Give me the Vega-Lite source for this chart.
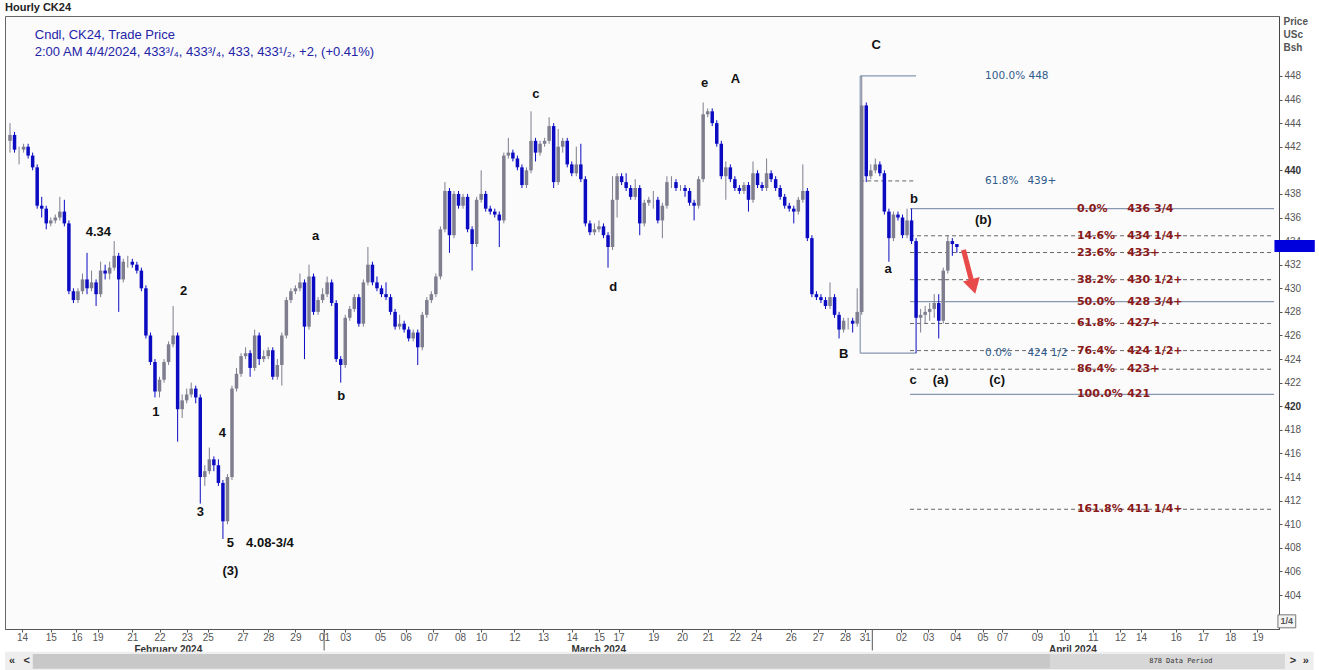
{
  "$schema": "https://vega.github.io/schema/vega-lite/v6.json",
  "width": 1274,
  "height": 613,
  "autosize": {"type": "none"},
  "padding": {"left": 5, "top": 16, "right": 40, "bottom": 41},
  "background": "#ffffff",
  "title": {"text": "Hourly CK24", "anchor": "start", "frame": "group", "fontSize": 11, "fontWeight": "bold", "font": "Liberation Sans", "color": "#222222", "offset": 3},
  "config": {
    "font": "Liberation Sans",
    "view": {"stroke": "#666666", "strokeWidth": 1, "fill": "#fbfbfb"},
    "axis": {"grid": false, "title": null, "labelOverlap": false, "labelFlush": false, "labelBound": false}
  },
  "datasets": {
    "candles": [
      {"i":0,"o":442.5,"h":444,"l":441.5,"c":443},
      {"i":3,"o":443,"h":443.25,"l":441.5,"c":441.75},
      {"i":6,"o":441.75,"h":442,"l":440.5,"c":441.75},
      {"i":9,"o":441.75,"h":442.25,"l":441.5,"c":442},
      {"i":12,"o":442,"h":442.25,"l":441,"c":441.25},
      {"i":15,"o":441.25,"h":441.5,"l":440,"c":440.25},
      {"i":18,"o":440.25,"h":440.5,"l":436.75,"c":437},
      {"i":21,"o":437,"h":437.75,"l":436,"c":436.75},
      {"i":24,"o":436.75,"h":437,"l":435,"c":435.5},
      {"i":27,"o":435.5,"h":436,"l":435.25,"c":435.75},
      {"i":30,"o":435.75,"h":436.25,"l":435.5,"c":436},
      {"i":33,"o":436,"h":437.75,"l":435.75,"c":436.5},
      {"i":36,"o":436.5,"h":437.5,"l":435.25,"c":435.5},
      {"i":39,"o":435.5,"h":435.75,"l":429.5,"c":429.75},
      {"i":42,"o":429.75,"h":430,"l":428.75,"c":429},
      {"i":45,"o":429,"h":430,"l":428.75,"c":429.75},
      {"i":48,"o":429.75,"h":431.25,"l":429.5,"c":430.75},
      {"i":51,"o":430.75,"h":433,"l":429.5,"c":430},
      {"i":54,"o":430,"h":431.5,"l":429.75,"c":430.5},
      {"i":57,"o":430.5,"h":430.75,"l":428.5,"c":429.5},
      {"i":60,"o":429.5,"h":432.25,"l":429.25,"c":431.5},
      {"i":63,"o":431.5,"h":432,"l":430.75,"c":431.25},
      {"i":66,"o":431.25,"h":432.25,"l":430.75,"c":431.75},
      {"i":69,"o":431.75,"h":434,"l":431.5,"c":432.75},
      {"i":72,"o":432.75,"h":433,"l":428,"c":430.75},
      {"i":75,"o":430.75,"h":432.5,"l":430.5,"c":432.25},
      {"i":78,"o":432.25,"h":432.75,"l":431.75,"c":432.25},
      {"i":81,"o":432.25,"h":432.5,"l":431.75,"c":432},
      {"i":84,"o":432,"h":432.25,"l":431.25,"c":431.5},
      {"i":87,"o":431.5,"h":431.75,"l":429.75,"c":430},
      {"i":90,"o":430,"h":430.25,"l":425.75,"c":426},
      {"i":93,"o":426,"h":426.25,"l":423.5,"c":423.75},
      {"i":96,"o":423.75,"h":424,"l":420.75,"c":421.25},
      {"i":99,"o":421.25,"h":422.5,"l":420.75,"c":422.25},
      {"i":102,"o":422.25,"h":424,"l":422,"c":423.75},
      {"i":105,"o":423.75,"h":425.5,"l":423.5,"c":425.25},
      {"i":108,"o":425.25,"h":428.5,"l":425,"c":426},
      {"i":111,"o":426,"h":426.25,"l":417,"c":419.75},
      {"i":114,"o":419.75,"h":421,"l":419,"c":420.5},
      {"i":117,"o":420.5,"h":421.5,"l":420.25,"c":421},
      {"i":120,"o":421,"h":422,"l":420.75,"c":421.5},
      {"i":123,"o":421.5,"h":421.75,"l":420.25,"c":420.75},
      {"i":126,"o":420.75,"h":421,"l":411.75,"c":414},
      {"i":129,"o":414,"h":415,"l":413.25,"c":414.5},
      {"i":132,"o":414.5,"h":416.5,"l":414.25,"c":415.5},
      {"i":135,"o":415.5,"h":415.75,"l":414.5,"c":415},
      {"i":138,"o":415,"h":415.5,"l":413.25,"c":413.5},
      {"i":141,"o":413.5,"h":413.75,"l":408.75,"c":410.25},
      {"i":144,"o":410.25,"h":414.25,"l":410,"c":414},
      {"i":147,"o":414,"h":421.75,"l":413.75,"c":421.5},
      {"i":150,"o":421.5,"h":423.25,"l":421.25,"c":422.75},
      {"i":153,"o":422.75,"h":424.5,"l":422.5,"c":424.25},
      {"i":156,"o":424.25,"h":425,"l":424,"c":424.5},
      {"i":159,"o":424.5,"h":424.75,"l":422.5,"c":423.25},
      {"i":162,"o":423.25,"h":426.5,"l":423,"c":426},
      {"i":165,"o":426,"h":426.25,"l":423.5,"c":424},
      {"i":168,"o":424,"h":424.75,"l":423.75,"c":424.25},
      {"i":171,"o":424.25,"h":425,"l":424,"c":424.75},
      {"i":174,"o":424.75,"h":425,"l":422.25,"c":422.5},
      {"i":177,"o":422.5,"h":424,"l":422.25,"c":423.5},
      {"i":180,"o":423.5,"h":426.25,"l":421.75,"c":426},
      {"i":183,"o":426,"h":429.25,"l":425.75,"c":429},
      {"i":186,"o":429,"h":430,"l":428.75,"c":429.75},
      {"i":189,"o":429.75,"h":430.25,"l":429.5,"c":430},
      {"i":192,"o":430,"h":431.25,"l":429.75,"c":430.5},
      {"i":195,"o":430.5,"h":430.75,"l":424,"c":426.75},
      {"i":198,"o":426.75,"h":432,"l":426.5,"c":431},
      {"i":201,"o":431,"h":431.25,"l":427.75,"c":428},
      {"i":204,"o":428,"h":429.25,"l":427.75,"c":429},
      {"i":207,"o":429,"h":430,"l":428.75,"c":429.5},
      {"i":210,"o":429.5,"h":431,"l":429.25,"c":430.5},
      {"i":213,"o":430.5,"h":430.75,"l":428.5,"c":428.75},
      {"i":216,"o":428.75,"h":429,"l":423.75,"c":424},
      {"i":219,"o":424,"h":424.25,"l":422,"c":423.5},
      {"i":222,"o":423.5,"h":427.75,"l":423.25,"c":427.5},
      {"i":225,"o":427.5,"h":428.5,"l":427.25,"c":428.25},
      {"i":228,"o":428.25,"h":429.5,"l":428,"c":429.25},
      {"i":231,"o":429.25,"h":429.5,"l":426.75,"c":427},
      {"i":234,"o":427,"h":430.75,"l":426.75,"c":430.5},
      {"i":237,"o":430.5,"h":433.5,"l":430.25,"c":432},
      {"i":240,"o":432,"h":432.25,"l":430.25,"c":430.5},
      {"i":243,"o":430.5,"h":431,"l":429.75,"c":430},
      {"i":246,"o":430,"h":430.25,"l":429.25,"c":429.5},
      {"i":249,"o":429.5,"h":430.5,"l":429,"c":429.25},
      {"i":252,"o":429.25,"h":429.5,"l":427.75,"c":428},
      {"i":255,"o":428,"h":428.25,"l":426.5,"c":426.75},
      {"i":258,"o":426.75,"h":427.75,"l":426.5,"c":427},
      {"i":261,"o":427,"h":427.25,"l":426.25,"c":426.5},
      {"i":264,"o":426.5,"h":426.75,"l":425.5,"c":425.75},
      {"i":267,"o":425.75,"h":426.5,"l":425.5,"c":426.25},
      {"i":270,"o":426.25,"h":426.5,"l":423.5,"c":425},
      {"i":273,"o":425,"h":428,"l":424.75,"c":427.75},
      {"i":276,"o":427.75,"h":429.25,"l":427.5,"c":429},
      {"i":279,"o":429,"h":429.75,"l":428.75,"c":429.5},
      {"i":282,"o":429.5,"h":431.25,"l":429.25,"c":431},
      {"i":285,"o":431,"h":435.25,"l":430.75,"c":435},
      {"i":288,"o":435,"h":439,"l":434.75,"c":438.25},
      {"i":291,"o":438.25,"h":438.5,"l":433,"c":434.5},
      {"i":294,"o":434.5,"h":438.25,"l":434.25,"c":438},
      {"i":297,"o":438,"h":438.25,"l":436.75,"c":437},
      {"i":300,"o":437,"h":438,"l":436.75,"c":437.75},
      {"i":303,"o":437.75,"h":438,"l":434.75,"c":435},
      {"i":306,"o":435,"h":435.25,"l":431.5,"c":433.75},
      {"i":309,"o":433.75,"h":437.75,"l":433.5,"c":437.5},
      {"i":312,"o":437.5,"h":440,"l":437.25,"c":438},
      {"i":315,"o":438,"h":438.25,"l":436.5,"c":436.75},
      {"i":318,"o":436.75,"h":437,"l":436.25,"c":436.5},
      {"i":321,"o":436.5,"h":436.75,"l":436,"c":436.25},
      {"i":324,"o":436.25,"h":436.5,"l":433.5,"c":435.75},
      {"i":327,"o":435.75,"h":441.5,"l":435.5,"c":441.25},
      {"i":330,"o":441.25,"h":442.75,"l":441,"c":441.5},
      {"i":333,"o":441.5,"h":441.75,"l":440.75,"c":441},
      {"i":336,"o":441,"h":441.25,"l":440,"c":440.25},
      {"i":339,"o":440.25,"h":440.5,"l":438.5,"c":438.75},
      {"i":342,"o":438.75,"h":440.25,"l":438.5,"c":440},
      {"i":345,"o":440,"h":445,"l":439.75,"c":442.5},
      {"i":348,"o":442.5,"h":442.75,"l":440.75,"c":441.5},
      {"i":351,"o":441.5,"h":442.5,"l":441.25,"c":442.25},
      {"i":354,"o":442.25,"h":442.75,"l":442,"c":442.5},
      {"i":357,"o":442.5,"h":444.5,"l":442.25,"c":443.75},
      {"i":360,"o":443.75,"h":444,"l":438.5,"c":439},
      {"i":363,"o":439,"h":443.5,"l":438.75,"c":442},
      {"i":366,"o":442,"h":442.75,"l":441.5,"c":442.5},
      {"i":369,"o":442.5,"h":442.75,"l":440.25,"c":440.5},
      {"i":372,"o":440.5,"h":440.75,"l":439.5,"c":439.75},
      {"i":375,"o":439.75,"h":442,"l":439.5,"c":440.5},
      {"i":378,"o":440.5,"h":442.25,"l":439,"c":439.25},
      {"i":381,"o":439.25,"h":439.5,"l":435.25,"c":435.5},
      {"i":384,"o":435.5,"h":435.75,"l":434.5,"c":434.75},
      {"i":387,"o":434.75,"h":435.5,"l":434.5,"c":435},
      {"i":390,"o":435,"h":435.75,"l":434.75,"c":435.25},
      {"i":393,"o":435.25,"h":435.5,"l":434.25,"c":434.5},
      {"i":396,"o":434.5,"h":434.75,"l":431.75,"c":433.5},
      {"i":399,"o":433.5,"h":439.5,"l":433.25,"c":437.5},
      {"i":402,"o":437.5,"h":439.75,"l":436,"c":439.5},
      {"i":405,"o":439.5,"h":439.75,"l":438.75,"c":439},
      {"i":408,"o":439,"h":439.75,"l":438.25,"c":438.5},
      {"i":411,"o":438.5,"h":438.75,"l":437.5,"c":437.75},
      {"i":414,"o":437.75,"h":439.25,"l":437.5,"c":438.5},
      {"i":417,"o":438.5,"h":438.75,"l":434.5,"c":435.5},
      {"i":420,"o":435.5,"h":437.5,"l":435.25,"c":437.25},
      {"i":423,"o":437.25,"h":437.75,"l":437,"c":437.5},
      {"i":426,"o":437.5,"h":438.25,"l":436.75,"c":437.5},
      {"i":429,"o":437.5,"h":437.75,"l":435.5,"c":435.75},
      {"i":432,"o":435.75,"h":437.25,"l":434.25,"c":437},
      {"i":435,"o":437,"h":439.5,"l":436.75,"c":439},
      {"i":438,"o":439,"h":439.5,"l":438.5,"c":439},
      {"i":441,"o":439,"h":439.25,"l":438.25,"c":438.5},
      {"i":444,"o":438.5,"h":438.75,"l":438.25,"c":438.5},
      {"i":447,"o":438.5,"h":438.75,"l":437.75,"c":438.25},
      {"i":450,"o":438.25,"h":438.5,"l":437,"c":437.25},
      {"i":453,"o":437.25,"h":437.5,"l":435.75,"c":437},
      {"i":456,"o":437,"h":439.5,"l":436.75,"c":439.25},
      {"i":459,"o":439.25,"h":445.75,"l":439,"c":444.75},
      {"i":462,"o":444.75,"h":445.25,"l":444.5,"c":445},
      {"i":465,"o":445,"h":445.25,"l":443.75,"c":444},
      {"i":468,"o":444,"h":444.25,"l":442,"c":442.25},
      {"i":471,"o":442.25,"h":442.5,"l":439.25,"c":439.5},
      {"i":474,"o":439.5,"h":440.75,"l":437.5,"c":440.25},
      {"i":477,"o":440.25,"h":440.5,"l":439,"c":439.25},
      {"i":480,"o":439.25,"h":439.5,"l":438.25,"c":438.5},
      {"i":483,"o":438.5,"h":438.75,"l":438,"c":438.25},
      {"i":486,"o":438.25,"h":439,"l":438,"c":438.75},
      {"i":489,"o":438.75,"h":439,"l":436.5,"c":437.5},
      {"i":492,"o":437.5,"h":440.75,"l":437.25,"c":439.75},
      {"i":495,"o":439.75,"h":440,"l":438.5,"c":438.75},
      {"i":498,"o":438.75,"h":439,"l":438.25,"c":438.5},
      {"i":501,"o":438.5,"h":441,"l":438.25,"c":439.75},
      {"i":504,"o":439.75,"h":440,"l":439,"c":439.25},
      {"i":507,"o":439.25,"h":439.5,"l":438.25,"c":438.5},
      {"i":510,"o":438.5,"h":438.75,"l":437.5,"c":437.75},
      {"i":513,"o":437.75,"h":438,"l":436.75,"c":437},
      {"i":516,"o":437,"h":437.25,"l":436.5,"c":436.75},
      {"i":519,"o":436.75,"h":437,"l":435.5,"c":436.5},
      {"i":522,"o":436.5,"h":437.75,"l":436.25,"c":437.5},
      {"i":525,"o":437.5,"h":440.5,"l":437.25,"c":438.25},
      {"i":528,"o":438.25,"h":438.5,"l":434,"c":434.25},
      {"i":531,"o":434.25,"h":434.5,"l":429.25,"c":429.5},
      {"i":534,"o":429.5,"h":429.75,"l":429,"c":429.25},
      {"i":537,"o":429.25,"h":429.5,"l":428.75,"c":429},
      {"i":540,"o":429,"h":429.25,"l":428.25,"c":428.5},
      {"i":543,"o":428.5,"h":430.5,"l":428.25,"c":429.25},
      {"i":546,"o":429.25,"h":429.5,"l":427.5,"c":427.75},
      {"i":549,"o":427.75,"h":428,"l":425.75,"c":426.5},
      {"i":552,"o":426.5,"h":427.5,"l":426.25,"c":427.25},
      {"i":555,"o":427.25,"h":427.5,"l":426.5,"c":427.25},
      {"i":558,"o":427.25,"h":427.5,"l":426.25,"c":427},
      {"i":561,"o":427,"h":430,"l":426.75,"c":428},
      {"i":564,"o":428,"h":448,"l":427.75,"c":445.5},
      {"i":567,"o":445.5,"h":445.75,"l":439,"c":439.5},
      {"i":570,"o":439.5,"h":440.5,"l":439.25,"c":440},
      {"i":573,"o":440,"h":441,"l":439.75,"c":440.5},
      {"i":576,"o":440.5,"h":440.75,"l":439.5,"c":439.75},
      {"i":579,"o":439.75,"h":440,"l":436.25,"c":436.5},
      {"i":582,"o":436.5,"h":436.75,"l":432.25,"c":434.25},
      {"i":585,"o":434.25,"h":436.5,"l":434,"c":436.25},
      {"i":588,"o":436.25,"h":436.5,"l":435.75,"c":436},
      {"i":591,"o":436,"h":436.25,"l":434.25,"c":434.5},
      {"i":594,"o":434.5,"h":436.75,"l":434.25,"c":435.75},
      {"i":597,"o":435.75,"h":436.75,"l":433.75,"c":434},
      {"i":600,"o":434,"h":434.25,"l":424.5,"c":427.5},
      {"i":603,"o":427.5,"h":428.25,"l":426.25,"c":427.75},
      {"i":606,"o":427.75,"h":428.5,"l":427,"c":428},
      {"i":609,"o":428,"h":428.75,"l":427.25,"c":428.25},
      {"i":612,"o":428.25,"h":429.5,"l":427.5,"c":428.75},
      {"i":615,"o":428.75,"h":429.5,"l":425.75,"c":427.25},
      {"i":618,"o":427.25,"h":431.75,"l":427,"c":431.5},
      {"i":621,"o":431.5,"h":434.5,"l":431.25,"c":434},
      {"i":624,"o":434,"h":434.25,"l":432.75,"c":433.75},
      {"i":627,"o":433.75,"h":433.75,"l":433,"c":433.5}
    ],
    "fibSolid": [
      {"x1":563,"x2":600,"y":448},
      {"x1":563,"x2":600,"y":424.5},
      {"x1":596,"x2":837,"y":436.75},
      {"x1":596,"x2":837,"y":428.875},
      {"x1":596,"x2":837,"y":421}
    ],
    "fibDash": [
      {"x1":563,"x2":600,"y":439.1},
      {"x1":596,"x2":837,"y":434.45},
      {"x1":596,"x2":837,"y":433.03},
      {"x1":596,"x2":837,"y":430.73},
      {"x1":596,"x2":837,"y":427.02},
      {"x1":596,"x2":837,"y":424.72},
      {"x1":596,"x2":837,"y":423.14},
      {"x1":596,"x2":837,"y":411.27}
    ],
    "fibRed": [
      {"y":436.75,"pct":"0.0%","price":"436 3/4"},
      {"y":434.45,"pct":"14.6%","price":"434 1/4+"},
      {"y":433.03,"pct":"23.6%","price":"433+"},
      {"y":430.73,"pct":"38.2%","price":"430 1/2+"},
      {"y":428.875,"pct":"50.0%","price":"428 3/4+"},
      {"y":427.02,"pct":"61.8%","price":"427+"},
      {"y":424.72,"pct":"76.4%","price":"424 1/2+"},
      {"y":423.14,"pct":"86.4%","price":"423+"},
      {"y":421,"pct":"100.0%","price":"421"},
      {"y":411.27,"pct":"161.8%","price":"411 1/4+"}
    ],
    "fibBlue": [
      {"y":448,"pct":"100.0% 448","price":""},
      {"y":439.1,"pct":"61.8%","price":"439+"},
      {"y":424.5,"pct":"0.0%","price":"424 1/2"}
    ],
    "waves": [
      {"x":573.6,"y":450.6,"t":"C"},
      {"x":480.3,"y":447.75,"t":"A"},
      {"x":459.9,"y":447.4,"t":"e"},
      {"x":348.2,"y":446.5,"t":"c"},
      {"x":58.5,"y":434.8,"t":"4.34"},
      {"x":202.4,"y":434.4,"t":"a"},
      {"x":115,"y":429.8,"t":"2"},
      {"x":399.5,"y":430.1,"t":"d"},
      {"x":598.6,"y":437.6,"t":"b"},
      {"x":644.5,"y":435.8,"t":"(b)"},
      {"x":581.5,"y":431.6,"t":"a"},
      {"x":552,"y":424.4,"t":"B"},
      {"x":598,"y":422.2,"t":"c"},
      {"x":616.3,"y":422.2,"t":"(a)"},
      {"x":653.7,"y":422.2,"t":"(c)"},
      {"x":96.6,"y":419.5,"t":"1"},
      {"x":140.6,"y":417.7,"t":"4"},
      {"x":219.4,"y":420.9,"t":"b"},
      {"x":126.1,"y":411.05,"t":"3"},
      {"x":145.9,"y":408.4,"t":"5"},
      {"x":172.1,"y":408.4,"t":"4.08-3/4"},
      {"x":145.9,"y":406.05,"t":"(3)"}
    ]
  },
  "layer": [
    {
      "data": {"values": [{"x1":-3.3,"x2":863.3,"y1":399.2,"y2":397.6}]},
      "mark": {"type": "rect", "fill": "#eeeeee", "clip": false},
      "encoding": {
        "x": {"field": "x1", "type": "quantitative", "scale": {"domain": [0, 837], "nice": false, "zero": false}, "axis": {
          "orient": "bottom",
          "values": [8,27,44,58,81,99,117,131,154,171,189,208,222,245,262,280,298,312,334,353,372,390,403,426,445,462,480,494,517,535,553,566,590,608,626,644,657,680,698,717,735,749,772,790,808,826,104.5,389.5,703.5],
          "tickCount": 500,
          "labelExpr": "['14','15','16','19','21','22','23','25','27','28','29','01','03','05','06','07','08','10','12','13','14','15','17','19','20','21','22','24','26','27','28','31','02','03','04','05','07','09','10','11','12','14','16','17','18','19',['','February 2024'],['','March 2024'],['','April 2024']][indexof([8,27,44,58,81,99,117,131,154,171,189,208,222,245,262,280,298,312,334,353,372,390,403,426,445,462,480,494,517,535,553,566,590,608,626,644,657,680,698,717,735,749,772,790,808,826,104.5,389.5,703.5], datum.value)]",
          "labelFontSize": 10,
          "labelFont": "Liberation Sans",
          "labelColor": {"condition": {"test": "datum.value % 1 != 0", "value": "#333333"}, "value": "#555555"},
          "labelFontWeight": {"condition": {"test": "datum.value % 1 != 0", "value": "bold"}, "value": "normal"},
          "labelOverlap": false,
          "labelFlush": false,
          "labelBound": false,
          "labelPadding": 0,
          "labelLineHeight": 12,
          "tickSize": 3,
          "tickColor": "#555555",
          "tickOpacity": {"condition": {"test": "datum.value % 1 != 0", "value": 0}, "value": 1},
          "domainColor": "#555555",
          "title": null
        }},
        "x2": {"field": "x2"},
        "y": {"field": "y1", "type": "quantitative", "scale": {"domain": [401.12, 453.08], "nice": false, "zero": false}, "axis": {
          "orient": "right",
          "values": [404,406,408,410,412,414,416,418,420,422,424,426,428,430,432,434,436,438,440,442,444,446,448],
          "tickCount": 500,
          "format": "d",
          "labelFontSize": 10,
          "labelFont": "Liberation Sans",
          "labelColor": {"condition": {"test": "datum.value % 20 == 0", "value": "#333333"}, "value": "#555555"},
          "labelFontWeight": {"condition": {"test": "datum.value % 20 == 0", "value": "bold"}, "value": "normal"},
          "labelOverlap": false,
          "labelPadding": 2,
          "tickSize": 3,
          "tickColor": "#555555",
          "domainColor": "#444444",
          "title": ["Price", "USc", "Bsh"],
          "titleAngle": 0,
          "titleAlign": "left",
          "titleBaseline": "top",
          "titleX": 4,
          "titleY": 0,
          "titleFontSize": 10,
          "titleFontWeight": "bold",
          "titleColor": "#555555",
          "titleLineHeight": 13
        }},
        "y2": {"field": "y2"}
      }
    },
    {
      "data": {"values": [{"x1":15.1,"x2":844,"y1":399.0,"y2":397.75}]},
      "mark": {"type": "rect", "fill": "#c8c8c8"},
      "encoding": {
        "x": {"field": "x1", "type": "quantitative"},
        "x2": {"field": "x2"},
        "y": {"field": "y1", "type": "quantitative", "axis": {"orient": "right"}},
        "y2": {"field": "y2"}
      }
    },
    {
      "data": {"values": [{"x1":688.6,"x2":844,"y1":399.0,"y2":397.75}]},
      "mark": {"type": "rect", "fill": "#d7d7d7"},
      "encoding": {
        "x": {"field": "x1", "type": "quantitative"},
        "x2": {"field": "x2"},
        "y": {"field": "y1", "type": "quantitative", "axis": {"orient": "right"}},
        "y2": {"field": "y2"}
      }
    },
    {
      "data": {"values": [{"x":775.3,"y":398.4,"t":"878 Data Period"}]},
      "mark": {"type": "text", "font": "DejaVu Sans Mono", "fontSize": 7, "color": "#333333", "align": "center", "baseline": "middle"},
      "encoding": {
        "x": {"field": "x", "type": "quantitative"},
        "y": {"field": "y", "type": "quantitative", "axis": {"orient": "right"}},
        "text": {"field": "t"}
      }
    },
    {
      "data": {"values": [{"x":1.3,"y":398.4,"t":"«"},{"x":11,"y":398.4,"t":"<"},{"x":849.6,"y":398.4,"t":">"},{"x":858,"y":398.4,"t":"»"}]},
      "mark": {"type": "text", "fontSize": 11, "fontWeight": "bold", "color": "#333333", "align": "center", "baseline": "middle"},
      "encoding": {
        "x": {"field": "x", "type": "quantitative"},
        "y": {"field": "y", "type": "quantitative", "axis": {"orient": "right"}},
        "text": {"field": "t"}
      }
    },
    {
      "data": {"values": [{"x":208,"y1":401.12,"y2":399.3},{"x":571,"y1":401.12,"y2":399.3}]},
      "mark": {"type": "rule", "color": "#555555", "strokeWidth": 1},
      "encoding": {
        "x": {"field": "x", "type": "quantitative"},
        "y": {"field": "y1", "type": "quantitative", "axis": {"orient": "right"}},
        "y2": {"field": "y2"}
      }
    },
    {
      "data": {"name": "fibSolid"},
      "mark": {"type": "rule", "color": "#8797b2", "strokeWidth": 1.2},
      "encoding": {
        "x": {"field": "x1", "type": "quantitative"},
        "x2": {"field": "x2"},
        "y": {"field": "y", "type": "quantitative", "axis": {"orient": "right"}}
      }
    },
    {
      "data": {"name": "fibDash"},
      "mark": {"type": "rule", "color": "#666666", "strokeWidth": 1, "strokeDash": [4, 3]},
      "encoding": {
        "x": {"field": "x1", "type": "quantitative"},
        "x2": {"field": "x2"},
        "y": {"field": "y", "type": "quantitative", "axis": {"orient": "right"}}
      }
    },
    {
      "data": {"values": [{"x":563,"y1":424.5,"y2":448}]},
      "mark": {"type": "rule", "color": "#8797b2", "strokeWidth": 1.2},
      "encoding": {
        "x": {"field": "x", "type": "quantitative"},
        "y": {"field": "y1", "type": "quantitative", "axis": {"orient": "right"}},
        "y2": {"field": "y2"}
      }
    },
    {
      "data": {"name": "candles"},
      "mark": {"type": "rule", "strokeWidth": 1},
      "encoding": {
        "x": {"field": "i", "type": "quantitative"},
        "y": {"field": "l", "type": "quantitative", "axis": {"orient": "right"}},
        "y2": {"field": "h"},
        "color": {"condition": {"test": "datum.c >= datum.o", "value": "#7e7e8e"}, "value": "#0b0bc2"}
      }
    },
    {
      "data": {"name": "candles"},
      "mark": {"type": "bar", "size": 3.5},
      "encoding": {
        "x": {"field": "i", "type": "quantitative"},
        "y": {"field": "o", "type": "quantitative", "axis": {"orient": "right"}},
        "y2": {"field": "c"},
        "color": {"condition": {"test": "datum.c >= datum.o", "value": "#7e7e8e"}, "value": "#0b0bc2"}
      }
    },
    {
      "data": {"name": "fibRed"},
      "mark": {"type": "text", "font": "DejaVu Sans", "fontSize": 11, "fontWeight": "bold", "color": "#8b1a1a", "align": "left", "baseline": "middle"},
      "encoding": {
        "x": {"datum": 706.5, "type": "quantitative"},
        "y": {"field": "y", "type": "quantitative", "axis": {"orient": "right"}},
        "text": {"field": "pct"}
      }
    },
    {
      "data": {"name": "fibRed"},
      "mark": {"type": "text", "font": "DejaVu Sans", "fontSize": 11, "fontWeight": "bold", "color": "#8b1a1a", "align": "left", "baseline": "middle"},
      "encoding": {
        "x": {"datum": 739.8, "type": "quantitative"},
        "y": {"field": "y", "type": "quantitative", "axis": {"orient": "right"}},
        "text": {"field": "price"}
      }
    },
    {
      "data": {"name": "fibBlue"},
      "mark": {"type": "text", "font": "DejaVu Sans", "fontSize": 10.5, "color": "#2f5b8c", "align": "left", "baseline": "middle"},
      "encoding": {
        "x": {"datum": 645.7, "type": "quantitative"},
        "y": {"field": "y", "type": "quantitative", "axis": {"orient": "right"}},
        "text": {"field": "pct"}
      }
    },
    {
      "data": {"name": "fibBlue"},
      "mark": {"type": "text", "font": "DejaVu Sans", "fontSize": 10.5, "color": "#2f5b8c", "align": "left", "baseline": "middle"},
      "encoding": {
        "x": {"datum": 673.7, "type": "quantitative"},
        "y": {"field": "y", "type": "quantitative", "axis": {"orient": "right"}},
        "text": {"field": "price"}
      }
    },
    {
      "data": {"name": "waves"},
      "mark": {"type": "text", "font": "Liberation Sans", "fontSize": 13, "fontWeight": "bold", "color": "#111111", "align": "center", "baseline": "middle"},
      "encoding": {
        "x": {"field": "x", "type": "quantitative"},
        "y": {"field": "y", "type": "quantitative", "axis": {"orient": "right"}},
        "text": {"field": "t"}
      }
    },
    {
      "data": {"values": [{"x":16.4,"y":451.47,"t":"Cndl, CK24, Trade Price"},{"x":16.4,"y":450.03,"t":"2:00 AM 4/4/2024, 433³/₄, 433³/₄, 433, 433¹/₂, +2, (+0.41%)"}]},
      "mark": {"type": "text", "font": "Liberation Sans", "fontSize": 13, "color": "#2424a8", "align": "left", "baseline": "middle"},
      "encoding": {
        "x": {"field": "x", "type": "quantitative"},
        "y": {"field": "y", "type": "quantitative", "axis": {"orient": "right"}},
        "text": {"field": "t"}
      }
    },
    {
      "data": {"values": [{"x1":631.4,"y1":433.25,"x2":636.6,"y2":430.7}]},
      "mark": {"type": "rule", "color": "#e84a4a", "strokeWidth": 5, "strokeCap": "butt"},
      "encoding": {
        "x": {"field": "x1", "type": "quantitative"},
        "x2": {"field": "x2"},
        "y": {"field": "y1", "type": "quantitative", "axis": {"orient": "right"}},
        "y2": {"field": "y2"}
      }
    },
    {
      "data": {"values": [{"x":637.9,"y":430.16}]},
      "mark": {"type": "point", "shape": "triangle-down", "filled": true, "color": "#e84a4a", "opacity": 1, "size": 300, "angle": 345},
      "encoding": {
        "x": {"field": "x", "type": "quantitative"},
        "y": {"field": "y", "type": "quantitative", "axis": {"orient": "right"}}
      }
    },
    {
      "data": {"values": [{"x1":837.3,"x2":864,"y1":434.1,"y2":433.08}]},
      "mark": {"type": "rect", "fill": "#0000dd"},
      "encoding": {
        "x": {"field": "x1", "type": "quantitative"},
        "x2": {"field": "x2"},
        "y": {"field": "y1", "type": "quantitative", "axis": {"orient": "right"}},
        "y2": {"field": "y2"}
      }
    },
    {
      "data": {"values": [{"x1":839.6,"x2":851.4,"y1":402.32,"y2":401.22}]},
      "mark": {"type": "rect", "fill": "#f4f4f4", "stroke": "#777777", "strokeWidth": 1},
      "encoding": {
        "x": {"field": "x1", "type": "quantitative"},
        "x2": {"field": "x2"},
        "y": {"field": "y1", "type": "quantitative", "axis": {"orient": "right"}},
        "y2": {"field": "y2"}
      }
    },
    {
      "data": {"values": [{"x":845.5,"y":401.77,"t":"1/4"}]},
      "mark": {"type": "text", "fontSize": 9, "fontWeight": "bold", "color": "#555555", "align": "center", "baseline": "middle"},
      "encoding": {
        "x": {"field": "x", "type": "quantitative"},
        "y": {"field": "y", "type": "quantitative", "axis": {"orient": "right"}},
        "text": {"field": "t"}
      }
    }
  ]
}
